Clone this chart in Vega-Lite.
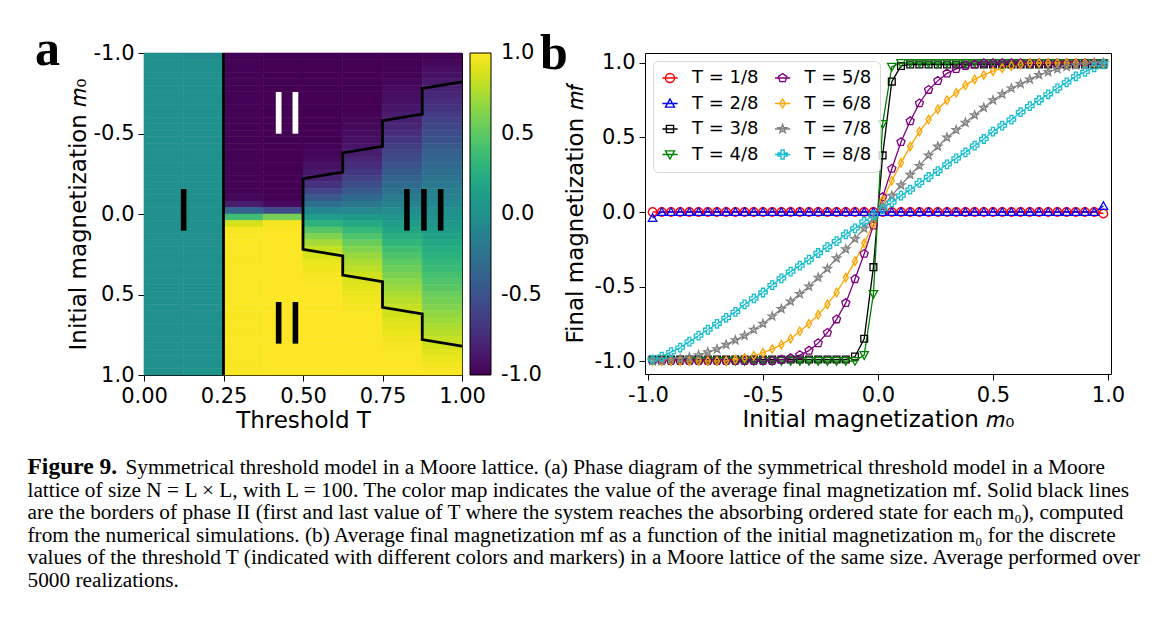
{
  "$schema": "https://vega.github.io/schema/vega-lite/v6.json",
  "background": "white",
  "padding": {"left": 27, "top": 24, "right": 5, "bottom": 5},
  "datasets": {
    "curves": [
{"T":0.125,"m0":-0.98,"mf":0},{"T":0.125,"m0":-0.94,"mf":0},{"T":0.125,"m0":-0.9,"mf":0},{"T":0.125,"m0":-0.86,"mf":0},{"T":0.125,"m0":-0.82,"mf":0},{"T":0.125,"m0":-0.78,"mf":0},{"T":0.125,"m0":-0.74,"mf":0},{"T":0.125,"m0":-0.7,"mf":0},{"T":0.125,"m0":-0.66,"mf":0},{"T":0.125,"m0":-0.62,"mf":0},{"T":0.125,"m0":-0.58,"mf":0},{"T":0.125,"m0":-0.54,"mf":0},{"T":0.125,"m0":-0.5,"mf":0},{"T":0.125,"m0":-0.46,"mf":0},{"T":0.125,"m0":-0.42,"mf":0},{"T":0.125,"m0":-0.38,"mf":0},{"T":0.125,"m0":-0.34,"mf":0},{"T":0.125,"m0":-0.3,"mf":0},{"T":0.125,"m0":-0.26,"mf":0},{"T":0.125,"m0":-0.22,"mf":0},{"T":0.125,"m0":-0.18,"mf":0},{"T":0.125,"m0":-0.14,"mf":0},{"T":0.125,"m0":-0.1,"mf":0},{"T":0.125,"m0":-0.06,"mf":0},{"T":0.125,"m0":-0.02,"mf":0},
{"T":0.125,"m0":0.02,"mf":0},{"T":0.125,"m0":0.06,"mf":0},{"T":0.125,"m0":0.1,"mf":0},{"T":0.125,"m0":0.14,"mf":0},{"T":0.125,"m0":0.18,"mf":0},{"T":0.125,"m0":0.22,"mf":0},{"T":0.125,"m0":0.26,"mf":0},{"T":0.125,"m0":0.3,"mf":0},{"T":0.125,"m0":0.34,"mf":0},{"T":0.125,"m0":0.38,"mf":0},{"T":0.125,"m0":0.42,"mf":0},{"T":0.125,"m0":0.46,"mf":0},{"T":0.125,"m0":0.5,"mf":0},{"T":0.125,"m0":0.54,"mf":0},{"T":0.125,"m0":0.58,"mf":0},{"T":0.125,"m0":0.62,"mf":0},{"T":0.125,"m0":0.66,"mf":0},{"T":0.125,"m0":0.7,"mf":0},{"T":0.125,"m0":0.74,"mf":0},{"T":0.125,"m0":0.78,"mf":0},{"T":0.125,"m0":0.82,"mf":0},{"T":0.125,"m0":0.86,"mf":0},{"T":0.125,"m0":0.9,"mf":0},{"T":0.125,"m0":0.94,"mf":0},{"T":0.125,"m0":0.98,"mf":-0.01},
{"T":0.25,"m0":-0.98,"mf":-0.04},{"T":0.25,"m0":-0.94,"mf":0},{"T":0.25,"m0":-0.9,"mf":0},{"T":0.25,"m0":-0.86,"mf":0},{"T":0.25,"m0":-0.82,"mf":0},{"T":0.25,"m0":-0.78,"mf":0},{"T":0.25,"m0":-0.74,"mf":0},{"T":0.25,"m0":-0.7,"mf":0},{"T":0.25,"m0":-0.66,"mf":0},{"T":0.25,"m0":-0.62,"mf":0},{"T":0.25,"m0":-0.58,"mf":0},{"T":0.25,"m0":-0.54,"mf":0},{"T":0.25,"m0":-0.5,"mf":0},{"T":0.25,"m0":-0.46,"mf":0},{"T":0.25,"m0":-0.42,"mf":0},{"T":0.25,"m0":-0.38,"mf":0},{"T":0.25,"m0":-0.34,"mf":0},{"T":0.25,"m0":-0.3,"mf":0},{"T":0.25,"m0":-0.26,"mf":0},{"T":0.25,"m0":-0.22,"mf":0},{"T":0.25,"m0":-0.18,"mf":0},{"T":0.25,"m0":-0.14,"mf":0},{"T":0.25,"m0":-0.1,"mf":0},{"T":0.25,"m0":-0.06,"mf":0},{"T":0.25,"m0":-0.02,"mf":0},
{"T":0.25,"m0":0.02,"mf":0},{"T":0.25,"m0":0.06,"mf":0},{"T":0.25,"m0":0.1,"mf":0},{"T":0.25,"m0":0.14,"mf":0},{"T":0.25,"m0":0.18,"mf":0},{"T":0.25,"m0":0.22,"mf":0},{"T":0.25,"m0":0.26,"mf":0},{"T":0.25,"m0":0.3,"mf":0},{"T":0.25,"m0":0.34,"mf":0},{"T":0.25,"m0":0.38,"mf":0},{"T":0.25,"m0":0.42,"mf":0},{"T":0.25,"m0":0.46,"mf":0},{"T":0.25,"m0":0.5,"mf":0},{"T":0.25,"m0":0.54,"mf":0},{"T":0.25,"m0":0.58,"mf":0},{"T":0.25,"m0":0.62,"mf":0},{"T":0.25,"m0":0.66,"mf":0},{"T":0.25,"m0":0.7,"mf":0},{"T":0.25,"m0":0.74,"mf":0},{"T":0.25,"m0":0.78,"mf":0},{"T":0.25,"m0":0.82,"mf":0},{"T":0.25,"m0":0.86,"mf":0},{"T":0.25,"m0":0.9,"mf":0},{"T":0.25,"m0":0.94,"mf":0},{"T":0.25,"m0":0.98,"mf":0.04},
{"T":0.375,"m0":-0.98,"mf":-0.99},{"T":0.375,"m0":-0.94,"mf":-0.99},{"T":0.375,"m0":-0.9,"mf":-0.99},{"T":0.375,"m0":-0.86,"mf":-0.99},{"T":0.375,"m0":-0.82,"mf":-0.99},{"T":0.375,"m0":-0.78,"mf":-0.99},{"T":0.375,"m0":-0.74,"mf":-0.99},{"T":0.375,"m0":-0.7,"mf":-0.99},{"T":0.375,"m0":-0.66,"mf":-0.99},{"T":0.375,"m0":-0.62,"mf":-0.99},{"T":0.375,"m0":-0.58,"mf":-0.99},{"T":0.375,"m0":-0.54,"mf":-0.99},{"T":0.375,"m0":-0.5,"mf":-0.99},{"T":0.375,"m0":-0.46,"mf":-0.99},{"T":0.375,"m0":-0.42,"mf":-0.99},{"T":0.375,"m0":-0.38,"mf":-0.99},{"T":0.375,"m0":-0.34,"mf":-0.99},{"T":0.375,"m0":-0.3,"mf":-0.99},{"T":0.375,"m0":-0.26,"mf":-0.99},{"T":0.375,"m0":-0.22,"mf":-0.99},{"T":0.375,"m0":-0.18,"mf":-0.99},{"T":0.375,"m0":-0.14,"mf":-0.99},{"T":0.375,"m0":-0.1,"mf":-0.97},{"T":0.375,"m0":-0.06,"mf":-0.85},{"T":0.375,"m0":-0.02,"mf":-0.37},
{"T":0.375,"m0":0.02,"mf":0.38},{"T":0.375,"m0":0.06,"mf":0.875},{"T":0.375,"m0":0.1,"mf":0.98},{"T":0.375,"m0":0.14,"mf":0.99},{"T":0.375,"m0":0.18,"mf":0.99},{"T":0.375,"m0":0.22,"mf":0.99},{"T":0.375,"m0":0.26,"mf":0.99},{"T":0.375,"m0":0.3,"mf":0.99},{"T":0.375,"m0":0.34,"mf":0.99},{"T":0.375,"m0":0.38,"mf":0.99},{"T":0.375,"m0":0.42,"mf":0.99},{"T":0.375,"m0":0.46,"mf":0.99},{"T":0.375,"m0":0.5,"mf":0.99},{"T":0.375,"m0":0.54,"mf":0.99},{"T":0.375,"m0":0.58,"mf":0.99},{"T":0.375,"m0":0.62,"mf":0.99},{"T":0.375,"m0":0.66,"mf":0.99},{"T":0.375,"m0":0.7,"mf":0.99},{"T":0.375,"m0":0.74,"mf":0.99},{"T":0.375,"m0":0.78,"mf":0.99},{"T":0.375,"m0":0.82,"mf":0.99},{"T":0.375,"m0":0.86,"mf":0.99},{"T":0.375,"m0":0.9,"mf":0.99},{"T":0.375,"m0":0.94,"mf":0.99},{"T":0.375,"m0":0.98,"mf":0.99},
{"T":0.5,"m0":-0.98,"mf":-1},{"T":0.5,"m0":-0.94,"mf":-1},{"T":0.5,"m0":-0.9,"mf":-1},{"T":0.5,"m0":-0.86,"mf":-1},{"T":0.5,"m0":-0.82,"mf":-1},{"T":0.5,"m0":-0.78,"mf":-1},{"T":0.5,"m0":-0.74,"mf":-1},{"T":0.5,"m0":-0.7,"mf":-1},{"T":0.5,"m0":-0.66,"mf":-1},{"T":0.5,"m0":-0.62,"mf":-1},{"T":0.5,"m0":-0.58,"mf":-1},{"T":0.5,"m0":-0.54,"mf":-1},{"T":0.5,"m0":-0.5,"mf":-1},{"T":0.5,"m0":-0.46,"mf":-1},{"T":0.5,"m0":-0.42,"mf":-1},{"T":0.5,"m0":-0.38,"mf":-1},{"T":0.5,"m0":-0.34,"mf":-1},{"T":0.5,"m0":-0.3,"mf":-1},{"T":0.5,"m0":-0.26,"mf":-1},{"T":0.5,"m0":-0.22,"mf":-1},{"T":0.5,"m0":-0.18,"mf":-1},{"T":0.5,"m0":-0.14,"mf":-1},{"T":0.5,"m0":-0.1,"mf":-1},{"T":0.5,"m0":-0.06,"mf":-0.96},{"T":0.5,"m0":-0.02,"mf":-0.55},
{"T":0.5,"m0":0.02,"mf":0.59},{"T":0.5,"m0":0.06,"mf":0.975},{"T":0.5,"m0":0.1,"mf":1},{"T":0.5,"m0":0.14,"mf":1},{"T":0.5,"m0":0.18,"mf":1},{"T":0.5,"m0":0.22,"mf":1},{"T":0.5,"m0":0.26,"mf":1},{"T":0.5,"m0":0.3,"mf":1},{"T":0.5,"m0":0.34,"mf":1},{"T":0.5,"m0":0.38,"mf":1},{"T":0.5,"m0":0.42,"mf":1},{"T":0.5,"m0":0.46,"mf":1},{"T":0.5,"m0":0.5,"mf":1},{"T":0.5,"m0":0.54,"mf":1},{"T":0.5,"m0":0.58,"mf":1},{"T":0.5,"m0":0.62,"mf":1},{"T":0.5,"m0":0.66,"mf":1},{"T":0.5,"m0":0.7,"mf":1},{"T":0.5,"m0":0.74,"mf":1},{"T":0.5,"m0":0.78,"mf":1},{"T":0.5,"m0":0.82,"mf":1},{"T":0.5,"m0":0.86,"mf":1},{"T":0.5,"m0":0.9,"mf":1},{"T":0.5,"m0":0.94,"mf":1},{"T":0.5,"m0":0.98,"mf":1},
{"T":0.625,"m0":-0.98,"mf":-1},{"T":0.625,"m0":-0.94,"mf":-1},{"T":0.625,"m0":-0.9,"mf":-1},{"T":0.625,"m0":-0.86,"mf":-1},{"T":0.625,"m0":-0.82,"mf":-1},{"T":0.625,"m0":-0.78,"mf":-1},{"T":0.625,"m0":-0.74,"mf":-1},{"T":0.625,"m0":-0.7,"mf":-1},{"T":0.625,"m0":-0.66,"mf":-1},{"T":0.625,"m0":-0.62,"mf":-1},{"T":0.625,"m0":-0.58,"mf":-1},{"T":0.625,"m0":-0.54,"mf":-1},{"T":0.625,"m0":-0.5,"mf":-1},{"T":0.625,"m0":-0.46,"mf":-1},{"T":0.625,"m0":-0.42,"mf":-0.99},{"T":0.625,"m0":-0.38,"mf":-0.98},{"T":0.625,"m0":-0.34,"mf":-0.96},{"T":0.625,"m0":-0.3,"mf":-0.93},{"T":0.625,"m0":-0.26,"mf":-0.88},{"T":0.625,"m0":-0.22,"mf":-0.81},{"T":0.625,"m0":-0.18,"mf":-0.72},{"T":0.625,"m0":-0.14,"mf":-0.61},{"T":0.625,"m0":-0.1,"mf":-0.45},{"T":0.625,"m0":-0.06,"mf":-0.28},{"T":0.625,"m0":-0.02,"mf":-0.09},
{"T":0.625,"m0":0.02,"mf":0.1},{"T":0.625,"m0":0.06,"mf":0.29},{"T":0.625,"m0":0.1,"mf":0.47},{"T":0.625,"m0":0.14,"mf":0.61},{"T":0.625,"m0":0.18,"mf":0.73},{"T":0.625,"m0":0.22,"mf":0.82},{"T":0.625,"m0":0.26,"mf":0.88},{"T":0.625,"m0":0.3,"mf":0.93},{"T":0.625,"m0":0.34,"mf":0.96},{"T":0.625,"m0":0.38,"mf":0.98},{"T":0.625,"m0":0.42,"mf":0.99},{"T":0.625,"m0":0.46,"mf":1},{"T":0.625,"m0":0.5,"mf":1},{"T":0.625,"m0":0.54,"mf":1},{"T":0.625,"m0":0.58,"mf":1},{"T":0.625,"m0":0.62,"mf":1},{"T":0.625,"m0":0.66,"mf":1},{"T":0.625,"m0":0.7,"mf":1},{"T":0.625,"m0":0.74,"mf":1},{"T":0.625,"m0":0.78,"mf":1},{"T":0.625,"m0":0.82,"mf":1},{"T":0.625,"m0":0.86,"mf":1},{"T":0.625,"m0":0.9,"mf":1},{"T":0.625,"m0":0.94,"mf":1},{"T":0.625,"m0":0.98,"mf":1},
{"T":0.75,"m0":-0.98,"mf":-1},{"T":0.75,"m0":-0.94,"mf":-1},{"T":0.75,"m0":-0.9,"mf":-1},{"T":0.75,"m0":-0.86,"mf":-1},{"T":0.75,"m0":-0.82,"mf":-1},{"T":0.75,"m0":-0.78,"mf":-1},{"T":0.75,"m0":-0.74,"mf":-1},{"T":0.75,"m0":-0.7,"mf":-1},{"T":0.75,"m0":-0.66,"mf":-1},{"T":0.75,"m0":-0.62,"mf":-0.99},{"T":0.75,"m0":-0.58,"mf":-0.98},{"T":0.75,"m0":-0.54,"mf":-0.965},{"T":0.75,"m0":-0.5,"mf":-0.945},{"T":0.75,"m0":-0.46,"mf":-0.92},{"T":0.75,"m0":-0.42,"mf":-0.89},{"T":0.75,"m0":-0.38,"mf":-0.85},{"T":0.75,"m0":-0.34,"mf":-0.8},{"T":0.75,"m0":-0.3,"mf":-0.75},{"T":0.75,"m0":-0.26,"mf":-0.69},{"T":0.75,"m0":-0.22,"mf":-0.62},{"T":0.75,"m0":-0.18,"mf":-0.54},{"T":0.75,"m0":-0.14,"mf":-0.44},{"T":0.75,"m0":-0.1,"mf":-0.33},{"T":0.75,"m0":-0.06,"mf":-0.21},{"T":0.75,"m0":-0.02,"mf":-0.08},
{"T":0.75,"m0":0.02,"mf":0.08},{"T":0.75,"m0":0.06,"mf":0.21},{"T":0.75,"m0":0.1,"mf":0.33},{"T":0.75,"m0":0.14,"mf":0.44},{"T":0.75,"m0":0.18,"mf":0.54},{"T":0.75,"m0":0.22,"mf":0.62},{"T":0.75,"m0":0.26,"mf":0.69},{"T":0.75,"m0":0.3,"mf":0.75},{"T":0.75,"m0":0.34,"mf":0.8},{"T":0.75,"m0":0.38,"mf":0.85},{"T":0.75,"m0":0.42,"mf":0.89},{"T":0.75,"m0":0.46,"mf":0.92},{"T":0.75,"m0":0.5,"mf":0.945},{"T":0.75,"m0":0.54,"mf":0.965},{"T":0.75,"m0":0.58,"mf":0.98},{"T":0.75,"m0":0.62,"mf":0.99},{"T":0.75,"m0":0.66,"mf":1},{"T":0.75,"m0":0.7,"mf":1},{"T":0.75,"m0":0.74,"mf":1},{"T":0.75,"m0":0.78,"mf":1},{"T":0.75,"m0":0.82,"mf":1},{"T":0.75,"m0":0.86,"mf":1},{"T":0.75,"m0":0.9,"mf":1},{"T":0.75,"m0":0.94,"mf":1},{"T":0.75,"m0":0.98,"mf":1},
{"T":0.875,"m0":-0.98,"mf":-1},{"T":0.875,"m0":-0.94,"mf":-1},{"T":0.875,"m0":-0.9,"mf":-0.99},{"T":0.875,"m0":-0.86,"mf":-0.985},{"T":0.875,"m0":-0.82,"mf":-0.975},{"T":0.875,"m0":-0.78,"mf":-0.96},{"T":0.875,"m0":-0.74,"mf":-0.94},{"T":0.875,"m0":-0.7,"mf":-0.92},{"T":0.875,"m0":-0.66,"mf":-0.89},{"T":0.875,"m0":-0.62,"mf":-0.86},{"T":0.875,"m0":-0.58,"mf":-0.83},{"T":0.875,"m0":-0.54,"mf":-0.79},{"T":0.875,"m0":-0.5,"mf":-0.75},{"T":0.875,"m0":-0.46,"mf":-0.7},{"T":0.875,"m0":-0.42,"mf":-0.65},{"T":0.875,"m0":-0.38,"mf":-0.6},{"T":0.875,"m0":-0.34,"mf":-0.55},{"T":0.875,"m0":-0.3,"mf":-0.5},{"T":0.875,"m0":-0.26,"mf":-0.44},{"T":0.875,"m0":-0.22,"mf":-0.38},{"T":0.875,"m0":-0.18,"mf":-0.31},{"T":0.875,"m0":-0.14,"mf":-0.25},{"T":0.875,"m0":-0.1,"mf":-0.18},{"T":0.875,"m0":-0.06,"mf":-0.11},{"T":0.875,"m0":-0.02,"mf":-0.04},
{"T":0.875,"m0":0.02,"mf":0.04},{"T":0.875,"m0":0.06,"mf":0.11},{"T":0.875,"m0":0.1,"mf":0.18},{"T":0.875,"m0":0.14,"mf":0.25},{"T":0.875,"m0":0.18,"mf":0.31},{"T":0.875,"m0":0.22,"mf":0.38},{"T":0.875,"m0":0.26,"mf":0.44},{"T":0.875,"m0":0.3,"mf":0.5},{"T":0.875,"m0":0.34,"mf":0.55},{"T":0.875,"m0":0.38,"mf":0.6},{"T":0.875,"m0":0.42,"mf":0.65},{"T":0.875,"m0":0.46,"mf":0.7},{"T":0.875,"m0":0.5,"mf":0.75},{"T":0.875,"m0":0.54,"mf":0.79},{"T":0.875,"m0":0.58,"mf":0.83},{"T":0.875,"m0":0.62,"mf":0.86},{"T":0.875,"m0":0.66,"mf":0.89},{"T":0.875,"m0":0.7,"mf":0.92},{"T":0.875,"m0":0.74,"mf":0.94},{"T":0.875,"m0":0.78,"mf":0.96},{"T":0.875,"m0":0.82,"mf":0.975},{"T":0.875,"m0":0.86,"mf":0.985},{"T":0.875,"m0":0.9,"mf":0.99},{"T":0.875,"m0":0.94,"mf":1},{"T":0.875,"m0":0.98,"mf":1},
{"T":1,"m0":-0.98,"mf":-0.99},{"T":1,"m0":-0.94,"mf":-0.97},{"T":1,"m0":-0.9,"mf":-0.94},{"T":1,"m0":-0.86,"mf":-0.91},{"T":1,"m0":-0.82,"mf":-0.87},{"T":1,"m0":-0.78,"mf":-0.83},{"T":1,"m0":-0.74,"mf":-0.79},{"T":1,"m0":-0.7,"mf":-0.75},{"T":1,"m0":-0.66,"mf":-0.71},{"T":1,"m0":-0.62,"mf":-0.67},{"T":1,"m0":-0.58,"mf":-0.62},{"T":1,"m0":-0.54,"mf":-0.58},{"T":1,"m0":-0.5,"mf":-0.54},{"T":1,"m0":-0.46,"mf":-0.49},{"T":1,"m0":-0.42,"mf":-0.445},{"T":1,"m0":-0.38,"mf":-0.4},{"T":1,"m0":-0.34,"mf":-0.36},{"T":1,"m0":-0.3,"mf":-0.32},{"T":1,"m0":-0.26,"mf":-0.275},{"T":1,"m0":-0.22,"mf":-0.235},{"T":1,"m0":-0.18,"mf":-0.195},{"T":1,"m0":-0.14,"mf":-0.15},{"T":1,"m0":-0.1,"mf":-0.11},{"T":1,"m0":-0.06,"mf":-0.065},{"T":1,"m0":-0.02,"mf":-0.02},
{"T":1,"m0":0.02,"mf":0.02},{"T":1,"m0":0.06,"mf":0.065},{"T":1,"m0":0.1,"mf":0.11},{"T":1,"m0":0.14,"mf":0.15},{"T":1,"m0":0.18,"mf":0.195},{"T":1,"m0":0.22,"mf":0.235},{"T":1,"m0":0.26,"mf":0.275},{"T":1,"m0":0.3,"mf":0.32},{"T":1,"m0":0.34,"mf":0.36},{"T":1,"m0":0.38,"mf":0.4},{"T":1,"m0":0.42,"mf":0.445},{"T":1,"m0":0.46,"mf":0.49},{"T":1,"m0":0.5,"mf":0.54},{"T":1,"m0":0.54,"mf":0.58},{"T":1,"m0":0.58,"mf":0.62},{"T":1,"m0":0.62,"mf":0.67},{"T":1,"m0":0.66,"mf":0.71},{"T":1,"m0":0.7,"mf":0.75},{"T":1,"m0":0.74,"mf":0.79},{"T":1,"m0":0.78,"mf":0.83},{"T":1,"m0":0.82,"mf":0.87},{"T":1,"m0":0.86,"mf":0.91},{"T":1,"m0":0.9,"mf":0.94},{"T":1,"m0":0.94,"mf":0.97},{"T":1,"m0":0.98,"mf":0.99}
    ],
    "borders": [
      {"seg": "v", "k": 0, "T": 0.25, "m0": -1},
      {"seg": "v", "k": 1, "T": 0.25, "m0": 1},
      {"seg": "s", "k": 0, "T": 1, "m0": -0.82},
      {"seg": "s", "k": 1, "T": 0.875, "m0": -0.78},
      {"seg": "s", "k": 2, "T": 0.875, "m0": -0.62},
      {"seg": "s", "k": 3, "T": 0.75, "m0": -0.58},
      {"seg": "s", "k": 4, "T": 0.75, "m0": -0.42},
      {"seg": "s", "k": 5, "T": 0.625, "m0": -0.38},
      {"seg": "s", "k": 6, "T": 0.625, "m0": -0.26},
      {"seg": "s", "k": 7, "T": 0.5, "m0": -0.22},
      {"seg": "s", "k": 8, "T": 0.5, "m0": 0.22},
      {"seg": "s", "k": 9, "T": 0.625, "m0": 0.26},
      {"seg": "s", "k": 10, "T": 0.625, "m0": 0.38},
      {"seg": "s", "k": 11, "T": 0.75, "m0": 0.42},
      {"seg": "s", "k": 12, "T": 0.75, "m0": 0.58},
      {"seg": "s", "k": 13, "T": 0.875, "m0": 0.62},
      {"seg": "s", "k": 14, "T": 0.875, "m0": 0.78},
      {"seg": "s", "k": 15, "T": 1, "m0": 0.82}
    ],
    "caption": [
      {"line": 1, "part": "lead", "text": "Figure 9."},
      {"line": 1, "part": "rest", "text": "Symmetrical threshold model in a Moore lattice. (a) Phase diagram of the symmetrical threshold model in a Moore"},
      {"line": 2, "part": "body", "text": "lattice of size N = L × L, with L = 100. The color map indicates the value of the average final magnetization mf. Solid black lines"},
      {"line": 3, "part": "body", "text": "are the borders of phase II (first and last value of T where the system reaches the absorbing ordered state for each m₀), computed"},
      {"line": 4, "part": "body", "text": "from the numerical simulations. (b) Average final magnetization mf as a function of the initial magnetization m₀ for the discrete"},
      {"line": 5, "part": "body", "text": "values of the threshold T (indicated with different colors and markers) in a Moore lattice of the same size. Average performed over"},
      {"line": 6, "part": "body", "text": "5000 realizations."}
    ]
  },
  "config": {
    "font": "DejaVu Sans",
    "view": {"stroke": "black", "strokeWidth": 1},
    "axis": {
      "domain": false, "grid": false, "ticks": true, "tickSize": 6, "tickColor": "black", "tickWidth": 1,
      "labelFont": "DejaVu Sans", "labelFontSize": 21, "labelColor": "black", "labelPadding": 4, "labelFlush": false, "labelOverlap": false,
      "titleFont": "DejaVu Sans", "titleFontSize": 23, "titleFontWeight": "normal", "titleColor": "black"
    }
  },
  "spacing": 22,
  "vconcat": [
    {
      "spacing": -4,
      "align": "none",
      "resolve": {"scale": {"color": "independent", "stroke": "independent", "shape": "independent"}},
      "hconcat": [
        {
          "width": 318,
          "height": 322,
          "title": {"text": "a", "orient": "top", "anchor": "start", "frame": "bounds", "font": "Liberation Serif", "fontSize": 50, "fontWeight": "bold", "color": "black", "baseline": "alphabetic", "offset": 0, "dy": 73, "dx": -32},
          "layer": [
            {
              "data": {"name": "curves"},
              "mark": {"type": "rect", "strokeWidth": 0.6},
              "encoding": {
                "x": {"field": "T", "type": "ordinal", "scale": {"type": "band", "paddingInner": 0, "paddingOuter": 0}, "axis": null},
                "y": {"field": "m0", "type": "ordinal", "scale": {"type": "band", "paddingInner": 0, "paddingOuter": 0}, "axis": null},
                "color": {
                  "field": "mf", "type": "quantitative",
                  "scale": {"scheme": "viridis", "domain": [-1, 1]},
                  "legend": {
                    "orient": "right", "offset": 2, "direction": "vertical", "title": null,
                    "gradientLength": 322, "gradientThickness": 21,
                    "gradientStrokeColor": "black", "gradientStrokeWidth": 1,
                    "values": [-1, -0.5, 0, 0.5, 1],
                    "labelFont": "DejaVu Sans", "labelFontSize": 21, "labelColor": "black", "labelOffset": 10, "labelOverlap": false,
                    "labelExpr": "datum.value < 0 ? '-' + format(-datum.value, '.1f') : format(datum.value, '.1f')",
                    "encode": {"labels": {"update": {"baseline": {"value": "middle"}}}}
                  }
                },
                "stroke": {"field": "mf", "type": "quantitative", "scale": {"scheme": "viridis", "domain": [-1.0001, 1.0001]}, "legend": null}
              }
            },
            {
              "data": {"name": "borders"},
              "mark": {"type": "line", "color": "black", "strokeWidth": 2.8},
              "encoding": {
                "x": {"field": "T", "type": "quantitative", "scale": {"domain": [0, 1], "nice": false, "zero": false},
                      "axis": {"orient": "bottom", "values": [0, 0.25, 0.5, 0.75, 1], "format": ".2f", "title": "Threshold T", "titlePadding": 3}},
                "y": {"field": "m0", "type": "quantitative", "scale": {"domain": [-1, 1], "reverse": true, "nice": false, "zero": false},
                      "axis": {"orient": "left", "values": [-1, -0.5, 0, 0.5, 1], "labelExpr": "datum.value < 0 ? '-' + format(-datum.value, '.1f') : format(datum.value, '.1f')", "title": "Initial magnetization 𝑚₀", "titlePadding": 3}},
                "detail": {"field": "seg"},
                "order": {"field": "k"}
              }
            },
            {
              "data": {"values": [{"label": "I", "T": 0.125, "m0": 0}, {"label": "II", "T": 0.45, "m0": 0.7}, {"label": "III", "T": 0.88, "m0": 0}]},
              "mark": {"type": "text", "font": "DejaVu Sans", "fontSize": 57, "color": "black", "align": "center", "baseline": "middle"},
              "encoding": {
                "x": {"field": "T", "type": "quantitative", "scale": {"domain": [0, 1], "nice": false, "zero": false}, "axis": null},
                "y": {"field": "m0", "type": "quantitative", "scale": {"domain": [-1, 1], "reverse": true, "nice": false, "zero": false}, "axis": null},
                "text": {"field": "label"}
              }
            },
            {
              "data": {"values": [{"label": "II", "T": 0.45, "m0": -0.6}]},
              "mark": {"type": "text", "font": "DejaVu Sans", "fontSize": 57, "color": "white", "align": "center", "baseline": "middle"},
              "encoding": {
                "x": {"field": "T", "type": "quantitative", "scale": {"domain": [0, 1], "nice": false, "zero": false}, "axis": null},
                "y": {"field": "m0", "type": "quantitative", "scale": {"domain": [-1, 1], "reverse": true, "nice": false, "zero": false}, "axis": null},
                "text": {"field": "label"}
              }
            }
          ],
          "resolve": {"scale": {"x": "independent", "y": "independent"}}
        },
        {
          "width": 466,
          "height": 321,
          "title": {"text": "b", "orient": "top", "anchor": "start", "frame": "bounds", "font": "Liberation Serif", "fontSize": 50, "fontWeight": "bold", "color": "black", "baseline": "alphabetic", "offset": 0, "dy": 67, "dx": -24},
          "data": {"name": "curves"},
          "encoding": {
            "x": {"field": "m0", "type": "quantitative", "scale": {"domain": [-1.013, 1.013], "nice": false, "zero": false},
                  "axis": {"values": [-1, -0.5, 0, 0.5, 1], "labelExpr": "datum.value < 0 ? '-' + format(-datum.value, '.1f') : format(datum.value, '.1f')", "title": "Initial magnetization 𝑚₀", "titlePadding": 3}},
            "y": {"field": "mf", "type": "quantitative", "scale": {"domain": [-1.087, 1.067], "nice": false, "zero": false},
                  "axis": {"values": [-1, -0.5, 0, 0.5, 1], "labelExpr": "datum.value < 0 ? '-' + format(-datum.value, '.1f') : format(datum.value, '.1f')", "title": "Final magnetization 𝑚𝑓", "titlePadding": 7}}
          },
          "layer": [
            {
              "mark": {"type": "line", "strokeWidth": 1.3},
              "encoding": {
                "color": {"field": "T", "type": "nominal",
                  "scale": {"domain": [0.125, 0.25, 0.375, 0.5, 0.625, 0.75, 0.875, 1], "range": ["#ff0000", "#0000ff", "#000000", "#008000", "#800080", "#ffa500", "#808080", "#17becf"]},
                  "legend": null}
              }
            },
            {
              "mark": {"type": "point", "filled": false, "size": 72, "strokeWidth": 1.3, "opacity": 1},
              "encoding": {
                "color": {"field": "T", "type": "nominal",
                  "scale": {"domain": [0.125, 0.25, 0.375, 0.5, 0.625, 0.75, 0.875, 1], "range": ["#ff0000", "#0000ff", "#000000", "#008000", "#800080", "#ffa500", "#808080", "#17becf"]},
                  "legend": null},
                "shape": {"field": "T", "type": "nominal",
                  "scale": {"domain": [0.125, 0.25, 0.375, 0.5, 0.625, 0.75, 0.875, 1], "range": [
                    "M1,0A1,1,0,1,1,-1,0A1,1,0,1,1,1,0Z",
                    "M0,-1L1,0.8L-1,0.8Z",
                    "M-0.8,-0.8L0.8,-0.8L0.8,0.8L-0.8,0.8Z",
                    "M0,1L1,-0.8L-1,-0.8Z",
                    "M0,-1L0.951,-0.309L0.588,0.809L-0.588,0.809L-0.951,-0.309Z",
                    "M0,-1L0.6,0L0,1L-0.6,0Z",
                    "M0,-1L0.235,-0.324L0.951,-0.309L0.38,0.124L0.588,0.809L0,0.4L-0.588,0.809L-0.38,0.124L-0.951,-0.309L-0.235,-0.324Z",
                    "M-0.35,-1L0.35,-1L0.35,-0.35L1,-0.35L1,0.35L0.35,0.35L0.35,1L-0.35,1L-0.35,0.35L-1,0.35L-1,-0.35L-0.35,-0.35Z"
                  ]},
                  "legend": null}
              }
            },
            {
              "transform": [{"filter": "datum.m0 > 5"}],
              "mark": {"type": "point", "filled": false, "strokeWidth": 1.4},
              "encoding": {
                "color": {"field": "T", "type": "nominal",
                  "scale": {"domain": [0.125, 0.25, 0.375, 0.5, 0.625, 0.75, 0.875, 1], "range": ["#ff0000", "#0000ff", "#000000", "#008000", "#800080", "#ffa500", "#808080", "#17becf"]},
                  "legend": {"orient": "top-left", "offset": 8, "columns": 2, "title": null, "labelFont": "DejaVu Sans", "labelFontSize": 18, "labelColor": "black", "symbolSize": 81, "symbolStrokeWidth": 1.4, "symbolOpacity": 1, "rowPadding": 7.5, "columnPadding": 12.6, "labelOffset": 13, "padding": 8, "strokeColor": "#d9d9d9", "fillColor": "rgba(255,255,255,0.8)", "cornerRadius": 5, "labelExpr": "'T = ' + format(datum.value * 8, 'd') + '/8'"}},
                "shape": {"field": "T", "type": "nominal",
                  "scale": {"domain": [0.125, 0.25, 0.375, 0.5, 0.625, 0.75, 0.875, 1], "range": [
                    "M-1.7,0L1.7,0M1,0A1,1,0,1,1,-1,0A1,1,0,1,1,1,0Z",
                    "M-1.7,0L1.7,0M0,-1L1,0.8L-1,0.8Z",
                    "M-1.7,0L1.7,0M-0.8,-0.8L0.8,-0.8L0.8,0.8L-0.8,0.8Z",
                    "M-1.7,0L1.7,0M0,1L1,-0.8L-1,-0.8Z",
                    "M-1.7,0L1.7,0M0,-1L0.951,-0.309L0.588,0.809L-0.588,0.809L-0.951,-0.309Z",
                    "M-1.7,0L1.7,0M0,-1L0.6,0L0,1L-0.6,0Z",
                    "M-1.7,0L1.7,0M0,-1L0.235,-0.324L0.951,-0.309L0.38,0.124L0.588,0.809L0,0.4L-0.588,0.809L-0.38,0.124L-0.951,-0.309L-0.235,-0.324Z",
                    "M-1.7,0L1.7,0M-0.35,-1L0.35,-1L0.35,-0.35L1,-0.35L1,0.35L0.35,0.35L0.35,1L-0.35,1L-0.35,0.35L-1,0.35L-1,-0.35L-0.35,-0.35Z"
                  ]},
                  "legend": {"orient": "top-left", "offset": 8, "columns": 2, "title": null, "labelFont": "DejaVu Sans", "labelFontSize": 18, "labelColor": "black", "symbolSize": 81, "symbolStrokeWidth": 1.4, "symbolOpacity": 1, "rowPadding": 7.5, "columnPadding": 12.6, "labelOffset": 13, "padding": 8, "strokeColor": "#d9d9d9", "fillColor": "rgba(255,255,255,0.8)", "cornerRadius": 5, "labelExpr": "'T = ' + format(datum.value * 8, 'd') + '/8'"}}
              }
            }
          ],
          "resolve": {"scale": {"color": "independent", "shape": "independent"}}
        }
      ]
    },
    {
      "width": 1100,
      "height": 112.5,
      "view": {"stroke": null},
      "data": {"name": "caption"},
      "encoding": {
        "x": {"value": 0},
        "y": {"field": "line", "type": "ordinal", "scale": {"type": "point", "padding": 0}, "axis": null},
        "text": {"field": "text"}
      },
      "layer": [
        {
          "transform": [{"filter": "datum.part == 'lead'"}],
          "mark": {"type": "text", "align": "left", "baseline": "alphabetic", "font": "Liberation Serif", "fontSize": 23.5, "fontWeight": "bold", "color": "black", "dx": -116.5}
        },
        {
          "transform": [{"filter": "datum.part == 'rest'"}],
          "mark": {"type": "text", "align": "left", "baseline": "alphabetic", "font": "Liberation Serif", "fontSize": 21.3, "color": "black", "dx": -18.5}
        },
        {
          "transform": [{"filter": "datum.part == 'body'"}],
          "mark": {"type": "text", "align": "left", "baseline": "alphabetic", "font": "Liberation Serif", "fontSize": 21.3, "color": "black", "dx": -116.5}
        }
      ]
    }
  ]
}
